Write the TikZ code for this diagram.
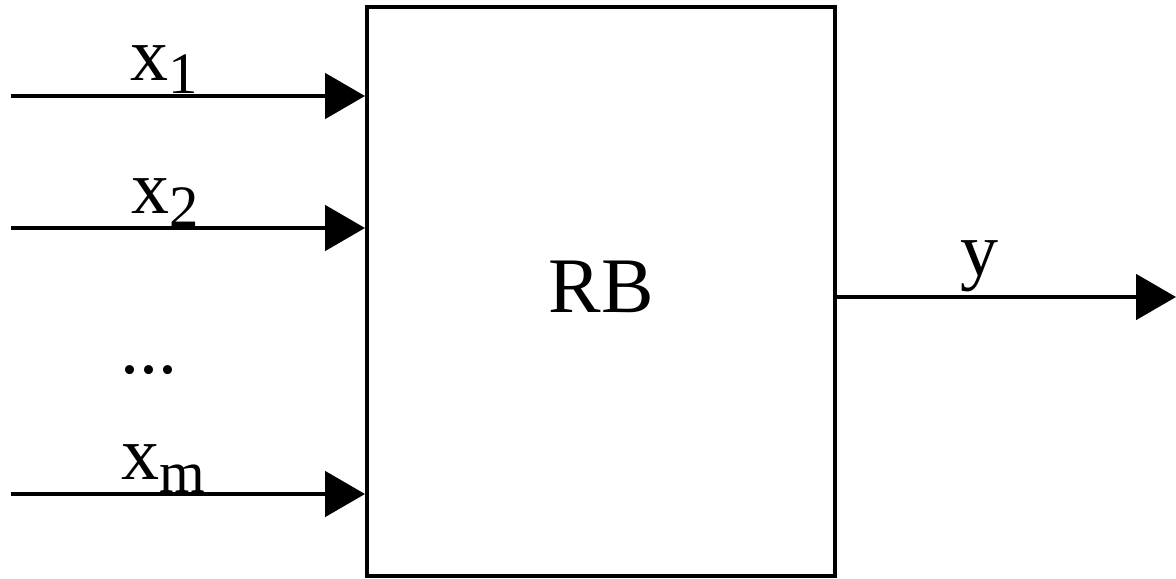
\documentclass[tikz,border=0pt]{standalone}
\usepackage{fontspec}
\setmainfont{Liberation Serif}
\usetikzlibrary{arrows.meta}
\newcommand{\biglbl}{\fontsize{57}{60}\selectfont}
\newcommand{\sublbl}[1]{\raisebox{-10pt}{\fontsize{44}{46}\selectfont #1}}
\tikzset{
  block/.style={draw, line width=3pt, rectangle, minimum width=351pt, minimum height=427pt, inner sep=0pt},
  signal/.style={line width=3pt, -{Triangle[length=30pt,width=34pt]}},
  lbl/.style={anchor=base west, inner sep=0pt, font=\biglbl}
}
\begin{document}
\begin{tikzpicture}[x=0.75pt, y=-0.75pt]
  \useasboundingbox (0,0) rectangle (1176,578);
  % rule base block
  \node[block] (rb) at (601,291.5) {};
  \node[anchor=base, inner sep=0pt, font=\fontsize{59}{62}\selectfont] (rbtxt) at (601,312) {RB};
  % inputs
  \coordinate (s1) at (11,96);
  \coordinate (s2) at (11,228);
  \coordinate (sm) at (11,494);
  \draw[signal] (s1) -- (s1 -| rb.west);
  \draw[signal] (s2) -- (s2 -| rb.west);
  \draw[signal] (sm) -- (sm -| rb.west);
  \node[lbl] (l1) at (130,80) {x\sublbl{1}};
  \node[lbl] (l2) at (131,213) {x\sublbl{2}};
  \node[lbl] (lm) at (121,479) {x\sublbl{m}};
  \node[lbl] (dots) at (120,373) {...};
  % output
  \coordinate (out) at (1176,297);
  \draw[signal] (out -| rb.east) -- (out);
  \node[lbl] (ly) at (960,275) {y};
\end{tikzpicture}
\end{document}
